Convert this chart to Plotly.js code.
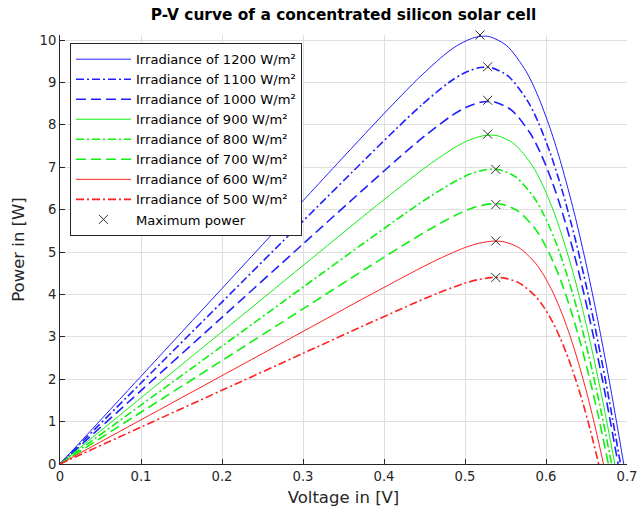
<!DOCTYPE html>
<html>
<head>
<meta charset="utf-8">
<script src="https://cdn.plot.ly/plotly-3.0.1.min.js"></script>
<style>html,body{margin:0;padding:0;background:#fff;}#chart{width:641px;height:515px;}</style>
</head>
<body>
<div id="chart"></div>
<script>
// Irradiance levels (W/m^2) and legend names
const irradiance = [1200, 1100, 1000, 900, 800, 700, 600, 500];
const seriesNames = irradiance.map(g => 'Irradiance of ' + g + ' W/m²');

// Voltage (V) / Power (W) samples, one pair per curve
const v1200 = [0, 0.1, 0.2, 0.3, 0.38, 0.4111, 0.4435, 0.4766, 0.4937, 0.5115, 0.5208, 0.5305, 0.5515, 0.5756, 0.5895, 0.6051, 0.6191, 0.6348, 0.6479, 0.6623, 0.6782, 0.696];
const p1200 = [0, 2.07, 4.14, 6.21, 7.86, 8.488, 9.118, 9.684, 9.910, 10.060, 10.091, 10.080, 9.870, 9.257, 8.707, 7.918, 7.057, 5.929, 4.860, 3.553, 1.955, 0];
const v1100 = [0, 0.1, 0.2, 0.3, 0.38, 0.4143, 0.4466, 0.4796, 0.4967, 0.5143, 0.5235, 0.5331, 0.5537, 0.5772, 0.5907, 0.6057, 0.6191, 0.6340, 0.6465, 0.6601, 0.6752, 0.692];
const p1100 = [0, 1.91, 3.82, 5.73, 7.25, 7.893, 8.473, 8.993, 9.200, 9.335, 9.360, 9.347, 9.144, 8.565, 8.050, 7.312, 6.511, 5.464, 4.474, 3.268, 1.796, 0];
const v1000 = [0, 0.1, 0.2, 0.3, 0.38, 0.4193, 0.4517, 0.4846, 0.5015, 0.5190, 0.5281, 0.5375, 0.5577, 0.5805, 0.5935, 0.6078, 0.6205, 0.6347, 0.6464, 0.6592, 0.6734, 0.689];
const p1000 = [0, 1.73, 3.46, 5.19, 6.57, 7.237, 7.761, 8.230, 8.414, 8.532, 8.553, 8.536, 8.342, 7.802, 7.326, 6.647, 5.912, 4.954, 4.052, 2.956, 1.623, 0];
const v900 = [0, 0.1, 0.2, 0.3, 0.38, 0.4230, 0.4553, 0.4881, 0.5049, 0.5223, 0.5313, 0.5406, 0.5603, 0.5825, 0.5949, 0.6086, 0.6207, 0.6341, 0.6452, 0.6572, 0.6704, 0.685];
const p900 = [0, 1.56, 3.12, 4.68, 5.93, 6.582, 7.054, 7.475, 7.639, 7.742, 7.758, 7.741, 7.558, 7.059, 6.622, 6.002, 5.332, 4.464, 3.647, 2.657, 1.457, 0];
const v800 = [0, 0.1, 0.2, 0.3, 0.38, 0.4266, 0.4589, 0.4916, 0.5083, 0.5256, 0.5345, 0.5436, 0.5629, 0.5844, 0.5964, 0.6095, 0.6210, 0.6336, 0.6439, 0.6552, 0.6675, 0.681];
const p800 = [0, 1.39, 2.78, 4.17, 5.28, 5.915, 6.335, 6.708, 6.852, 6.942, 6.954, 6.936, 6.766, 6.311, 5.915, 5.355, 4.753, 3.974, 3.243, 2.361, 1.292, 0];
const v700 = [0, 0.1, 0.2, 0.3, 0.38, 0.4302, 0.4625, 0.4951, 0.5118, 0.5288, 0.5376, 0.5466, 0.5655, 0.5864, 0.5978, 0.6103, 0.6212, 0.6330, 0.6427, 0.6532, 0.6646, 0.677];
const p700 = [0, 1.22, 2.44, 3.66, 4.636, 5.236, 5.604, 5.930, 6.055, 6.131, 6.139, 6.121, 5.966, 5.557, 5.204, 4.707, 4.173, 3.485, 2.841, 2.065, 1.129, 0];
const v600 = [0, 0.1, 0.2, 0.3, 0.38, 0.4322, 0.4644, 0.4970, 0.5135, 0.5305, 0.5391, 0.5480, 0.5665, 0.5866, 0.5975, 0.6094, 0.6196, 0.6307, 0.6396, 0.6493, 0.6597, 0.671];
const p600 = [0, 1.042, 2.084, 3.126, 3.96, 4.493, 4.807, 5.084, 5.189, 5.252, 5.258, 5.241, 5.104, 4.748, 4.443, 4.014, 3.555, 2.965, 2.415, 1.754, 0.957, 0];
const v500 = [0, 0.1, 0.2, 0.3, 0.38, 0.4340, 0.4661, 0.4986, 0.5150, 0.5318, 0.5404, 0.5491, 0.5672, 0.5866, 0.5971, 0.6083, 0.6178, 0.6281, 0.6364, 0.6453, 0.6548, 0.665];
const p500 = [0, 0.87, 1.74, 2.61, 3.306, 3.766, 4.028, 4.258, 4.345, 4.396, 4.401, 4.385, 4.267, 3.965, 3.706, 3.345, 2.960, 2.465, 2.007, 1.455, 0.794, 0];

// Maximum power points (V, W)
const mppV = [0.5185, 0.528, 0.528, 0.528, 0.538, 0.538, 0.538, 0.538];
const mppP = [10.12, 9.37, 8.58, 7.78, 6.95, 6.12, 5.26, 4.40];

// Tick labels
const xTicks = [0, 0.1, 0.2, 0.3, 0.4, 0.5, 0.6, 0.7];
const xTickLabels = ['0', '0.1', '0.2', '0.3', '0.4', '0.5', '0.6', '0.7'];
const yTicks = [0, 1, 2, 3, 4, 5, 6, 7, 8, 9, 10];
const yTickLabels = ['0', '1', '2', '3', '4', '5', '6', '7', '8', '9', '10'];

const voltages = [v1200, v1100, v1000, v900, v800, v700, v600, v500];
const powers = [p1200, p1100, p1000, p900, p800, p700, p600, p500];
const colors = ['#2020ff', '#2020ff', '#2020ff', '#10f010', '#10f010', '#10f010', '#ff2020', '#ff2020'];
const DASH = '10px,5px';
const DASHDOT = '8px,3px,2px,3px';
const dashes = ['solid', DASHDOT, DASH, 'solid', DASHDOT, DASH, 'solid', DASHDOT];
const widths = [1, 1.6, 1.6, 1, 1.6, 1.6, 1, 1.6];

const FONT = 'DejaVu Sans, Liberation Sans, Arial, sans-serif';

const traces = voltages.map((v, i) => ({
  x: v, y: powers[i], type: 'scatter', mode: 'lines', name: seriesNames[i],
  line: {color: colors[i], width: widths[i], dash: dashes[i], shape: 'spline', smoothing: 0.8}
}));
traces.push({
  x: mppV, y: mppP, type: 'scatter', mode: 'markers', name: 'Maximum power',
  cliponaxis: false,
  marker: {symbol: 'x-thin-open', size: 9, color: '#303030', line: {color: '#303030', width: 1}}
});

const axisCommon = {
  showline: true, linecolor: '#262626', linewidth: 1, mirror: false,
  ticks: 'inside', ticklen: 5, tickcolor: '#262626', tickwidth: 1,
  showgrid: true, gridcolor: '#dfdfdf', gridwidth: 1, zeroline: false,
  tickfont: {family: FONT, size: 13.2, color: '#262626'}
};

const layout = {
  width: 641, height: 515,
  margin: {l: 60, r: 14, t: 35, b: 51, pad: 0},
  paper_bgcolor: '#ffffff', plot_bgcolor: '#ffffff',
  font: {family: FONT, color: '#262626'},
  title: {text: 'P-V curve of a concentrated silicon solar cell', font: {family: FONT, size: 15.4, color: '#000000', weight: 'bold'},
          x: 0.5, xref: 'paper', xanchor: 'center', y: 0.972, yref: 'container', yanchor: 'middle'},
  xaxis: Object.assign({}, axisCommon, {range: [0, 0.7], tickvals: xTicks, ticktext: xTickLabels,
          title: {text: 'Voltage in [V]', font: {family: FONT, size: 16.5, color: '#262626'}, standoff: 8}}),
  yaxis: Object.assign({}, axisCommon, {range: [0, 10.12], tickvals: yTicks, ticktext: yTickLabels,
          title: {text: 'Power in [W]', font: {family: FONT, size: 16.5, color: '#262626'}, standoff: 10}}),
  showlegend: true,
  legend: {x: 0.0176, y: 0.981, xanchor: 'left', yanchor: 'top', bgcolor: '#ffffff',
           bordercolor: '#262626', borderwidth: 1, tracegroupgap: 0, itemwidth: 55,
           font: {family: FONT, size: 13.1, color: '#000000'}}
};

Plotly.newPlot('chart', traces, layout, {staticPlot: true, displayModeBar: false});
</script>
</body>
</html>
